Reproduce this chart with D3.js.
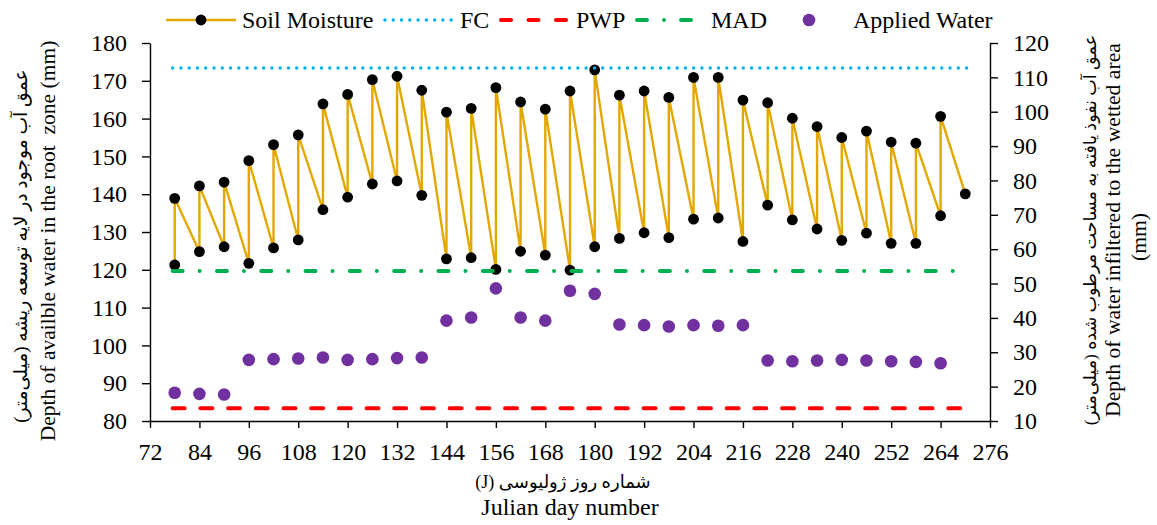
<!DOCTYPE html>
<html>
<head>
<meta charset="utf-8">
<script src="https://cdn.jsdelivr.net/npm/d3@7"></script>
<style>
  body { margin: 0; background: #fff; }
  svg { display: block; font-family: "Liberation Serif", "Times New Roman", "DejaVu Sans", serif; }
</style>
</head>
<body>
<div id="chart"></div>
<script>
// irrigation days (Julian), soil moisture before / after each irrigation
const irrigDays = [78, 84, 90, 96, 102, 108, 114, 120, 126, 132, 138, 144, 150, 156, 162, 168,
  174, 180, 186, 192, 198, 204, 210, 216, 222, 228, 234, 240, 246, 252, 258, 264];
const moistureBefore = [121.3, 124.8, 126.1, 121.7, 125.8, 127.9, 135.9, 139.2, 142.7, 143.5, 139.7,
  122.9, 123.2, 120.1, 124.9, 123.9, 119.9, 126.1, 128.3, 129.8, 128.5, 133.4, 133.7, 127.5,
  137.1, 133.2, 130.8, 127.8, 129.7, 127.0, 127.0, 134.3];
const moistureAfter = [138.9, 142.2, 143.2, 148.9, 153.1, 155.7, 163.9, 166.4, 170.3, 171.2, 167.5,
  161.7, 162.7, 168.2, 164.4, 162.5, 167.3, 172.9, 166.2, 167.3, 165.6, 170.9, 170.9, 164.9,
  164.2, 160.1, 157.9, 155.0, 156.7, 153.8, 153.5, 160.6];
const lastDay = 270;
const lastMoisture = 140.1;
const appliedWater = [18.2, 17.9, 17.7, 27.8, 28.0, 28.2, 28.5, 27.8, 28.0, 28.3, 28.5, 39.2, 40.1,
  48.6, 40.1, 39.2, 47.9, 47.0, 38.1, 37.9, 37.5, 37.9, 37.7, 37.9, 27.6, 27.4, 27.6, 27.8,
  27.6, 27.4, 27.2, 26.8];

// constant reference levels (mm) and the day span they are drawn over
const refSpan = [77.5, 270.5];
const FC = 173.4;
const PWP = 83.4;
const MAD = 119.7;

const xTicks = [72, 84, 96, 108, 120, 132, 144, 156, 168, 180, 192, 204, 216, 228, 240, 252, 264, 276];
const leftTicks = [80, 90, 100, 110, 120, 130, 140, 150, 160, 170, 180];
const rightTicks = [10, 20, 30, 40, 50, 60, 70, 80, 90, 100, 110, 120];

const width = 1157;
const height = 525;
const plot = { left: 150, right: 990, top: 43, bottom: 421 };

const svg = d3.select('#chart').append('svg')
  .attr('width', width)
  .attr('height', height);

const x = d3.scaleLinear().domain([72, 276]).range([plot.left, plot.right]);
const yL = d3.scaleLinear().domain([80, 180]).range([plot.bottom, plot.top]);
const yR = d3.scaleLinear().domain([10, 120]).range([plot.bottom, plot.top]);

const gold = '#E3A800';
const purple = '#7030A0';

// axes
const styleAxis = (g) => {
  g.select('.domain').attr('stroke', '#000').attr('stroke-width', 1.4);
  g.selectAll('.tick line').attr('stroke', '#000').attr('stroke-width', 1.4);
  g.selectAll('.tick text').attr('fill', '#000').style('font-size', '24px')
    .style('font-family', '"Liberation Serif", "Times New Roman", serif');
};

svg.append('g')
  .attr('transform', `translate(0, ${plot.bottom})`)
  .call(d3.axisBottom(x).tickValues(xTicks).tickSize(7).tickSizeOuter(0).tickPadding(15))
  .call(styleAxis);

svg.append('g')
  .attr('transform', `translate(${plot.left}, 0)`)
  .call(d3.axisLeft(yL).tickValues(leftTicks).tickSize(8).tickSizeOuter(0).tickPadding(15))
  .call(styleAxis);

svg.append('g')
  .attr('transform', `translate(${plot.right}, 0)`)
  .call(d3.axisRight(yR).tickValues(rightTicks).tickSize(8).tickSizeOuter(0).tickPadding(15))
  .call(styleAxis);

// soil moisture zig-zag
const smPoints = [];
irrigDays.forEach((d, i) => {
  smPoints.push([d, moistureBefore[i]]);
  smPoints.push([d, moistureAfter[i]]);
});
smPoints.push([lastDay, lastMoisture]);

const line = d3.line().x((d) => x(d[0])).y((d) => yL(d[1]));

svg.append('path')
  .datum(smPoints)
  .attr('fill', 'none')
  .attr('stroke', gold)
  .attr('stroke-width', 2.4)
  .attr('stroke-linejoin', 'round')
  .attr('d', line);

svg.append('g')
  .selectAll('circle')
  .data(smPoints)
  .enter()
  .append('circle')
  .attr('cx', (d) => x(d[0]))
  .attr('cy', (d) => yL(d[1]))
  .attr('r', 5.4)
  .attr('fill', '#000');

// reference lines
const refs = [
  { v: FC, color: '#00B0F0', width: 3.4, dash: '0 8.27' },
  { v: PWP, color: '#FF0000', width: 4, dash: '12 15.7' },
  { v: MAD, color: '#00B050', width: 4, dash: '10 17 0 17.3' },
];

svg.append('g')
  .selectAll('path')
  .data(refs)
  .enter()
  .append('path')
  .attr('fill', 'none')
  .attr('stroke', (d) => d.color)
  .attr('stroke-width', (d) => d.width)
  .attr('stroke-dasharray', (d) => d.dash)
  .attr('stroke-linecap', 'round')
  .attr('d', (d) => line(refSpan.map((day) => [day, d.v])));

// applied water
svg.append('g')
  .selectAll('circle')
  .data(irrigDays)
  .enter()
  .append('circle')
  .attr('cx', (d) => x(d))
  .attr('cy', (d, i) => yR(appliedWater[i]))
  .attr('r', 6.3)
  .attr('fill', purple);

// legend
const legend = svg.append('g').style('font-size', '24px');
const ly = 20;
const lty = 28;

legend.append('line').attr('x1', 166).attr('x2', 236).attr('y1', ly).attr('y2', ly)
  .attr('stroke', gold).attr('stroke-width', 2.4);
legend.append('circle').attr('cx', 201).attr('cy', ly).attr('r', 5.4).attr('fill', '#000');
legend.append('text').attr('x', 242).attr('y', lty).text('Soil Moisture');

legend.append('line').attr('x1', 385).attr('x2', 452).attr('y1', ly).attr('y2', ly)
  .attr('stroke', '#00B0F0').attr('stroke-width', 3.4).attr('stroke-dasharray', '0 8.27')
  .attr('stroke-linecap', 'round');
legend.append('text').attr('x', 460).attr('y', lty).text('FC');

legend.append('line').attr('x1', 501).attr('x2', 566).attr('y1', ly).attr('y2', ly)
  .attr('stroke', '#FF0000').attr('stroke-width', 4).attr('stroke-dasharray', '10 17.5')
  .attr('stroke-linecap', 'round');
legend.append('text').attr('x', 576).attr('y', lty).text('PWP');

legend.append('line').attr('x1', 637).attr('x2', 691).attr('y1', ly).attr('y2', ly)
  .attr('stroke', '#00B050').attr('stroke-width', 4).attr('stroke-dasharray', '10 17 0 17')
  .attr('stroke-linecap', 'round');
legend.append('text').attr('x', 711).attr('y', lty).text('MAD');

legend.append('circle').attr('cx', 809).attr('cy', ly).attr('r', 6.3).attr('fill', purple);
legend.append('text').attr('x', 853).attr('y', lty).text('Applied Water');

// axis titles
const fa = '"Liberation Serif", "DejaVu Sans", serif';

svg.append('text')
  .attr('x', 563).attr('y', 488)
  .attr('text-anchor', 'middle')
  .attr('direction', 'rtl')
  .style('font-family', fa)
  .style('font-size', '18px')
  .text('شماره روز ژولیوسی  (J)');

svg.append('text')
  .attr('x', 570).attr('y', 515)
  .attr('text-anchor', 'middle')
  .style('font-size', '24px')
  .text('Julian day number');

const vTitle = (cx, cy, txt, size, rtl) => {
  const t = svg.append('text')
    .attr('transform', `translate(${cx}, ${cy}) rotate(-90)`)
    .attr('text-anchor', 'middle')
    .attr('dy', '0.35em')
    .style('font-size', size + 'px')
    .style('white-space', 'pre')
    .text(txt);
  if (rtl) t.attr('direction', 'rtl').style('font-family', fa);
  return t;
};

vTitle(20, 246, 'عمق آب موجود در لایه توسعه ریشه (میلی‌متر)', 18.8, true);
vTitle(47, 241, 'Depth of availble water in the root  zone (mm)', 21.5);

vTitle(1090, 230, 'عمق آب نفوذ یافته به مساحت مرطوب شده (میلی‌متر)', 17.5, true);
vTitle(1112, 230, 'Depth of water infiltered to the wetted area', 21.7);
vTitle(1138, 237, '(mm)', 21.7);
</script>
</body>
</html>
